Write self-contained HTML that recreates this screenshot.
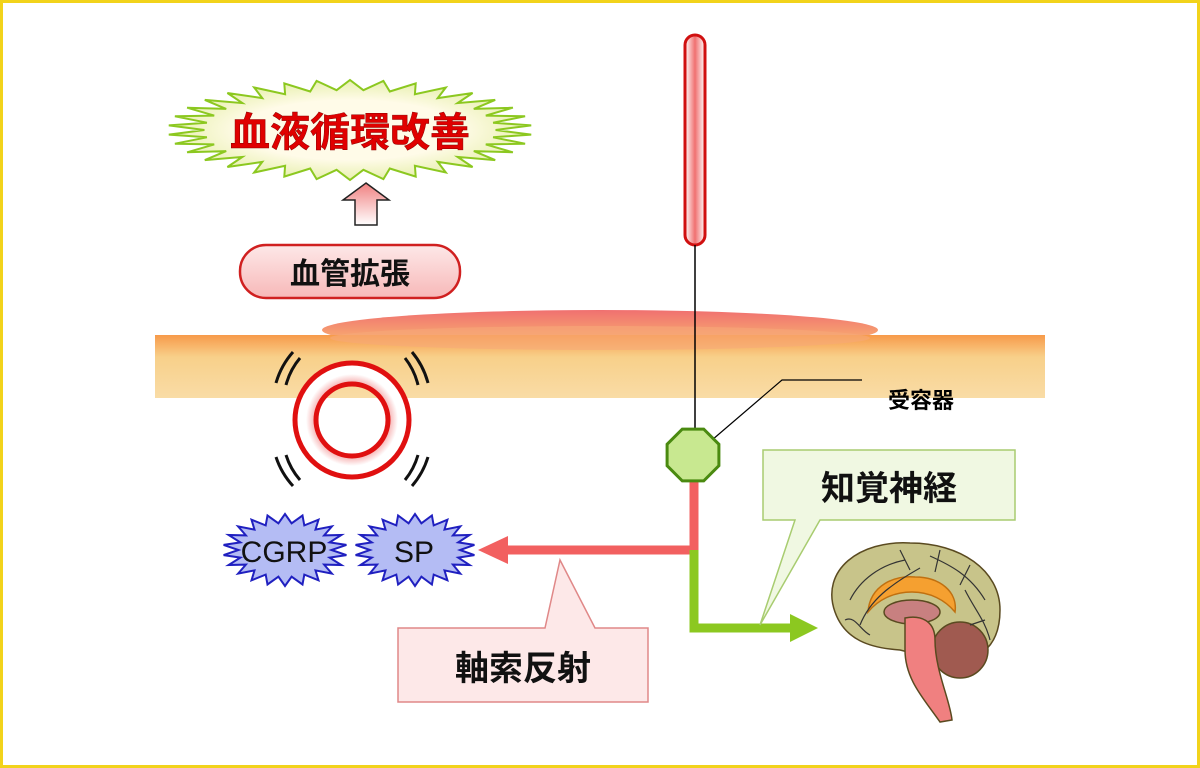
<!DOCTYPE html>
<html><head><meta charset="utf-8"><style>
html,body{margin:0;padding:0;background:#fff}
svg{display:block}
text{font-family:"Liberation Sans","Noto Sans CJK JP",sans-serif}
</style></head><body>
<svg id="s" width="1200" height="768" viewBox="0 0 1200 768" xmlns="http://www.w3.org/2000/svg">
<defs>
<linearGradient id="skin" x1="0" y1="0" x2="0" y2="1">
<stop offset="0" stop-color="#f79a4a"/><stop offset="0.35" stop-color="#f8d08a"/><stop offset="1" stop-color="#f9dca6"/></linearGradient>
<linearGradient id="bump" x1="0" y1="0" x2="0" y2="1">
<stop offset="0" stop-color="#f07070"/><stop offset="0.6" stop-color="#f6a070"/><stop offset="1" stop-color="#f8c890"/></linearGradient>
<linearGradient id="cap" x1="0" y1="0" x2="1" y2="0">
<stop offset="0" stop-color="#fff"/><stop offset="0.5" stop-color="#f07070"/><stop offset="1" stop-color="#fff"/></linearGradient>
<radialGradient id="burst" cx="0.5" cy="0.5" r="0.5">
<stop offset="0.6" stop-color="#fffbe8"/><stop offset="1" stop-color="#e8f0b0"/></radialGradient>
<linearGradient id="pill" x1="0" y1="0" x2="0" y2="1">
<stop offset="0" stop-color="#fde8e8"/><stop offset="1" stop-color="#f7b8b8"/></linearGradient>
<linearGradient id="arr" x1="0" y1="0" x2="0" y2="1">
<stop offset="0" stop-color="#f08080"/><stop offset="1" stop-color="#fff"/></linearGradient>
<radialGradient id="ring" cx="0.5" cy="0.5" r="0.5">
<stop offset="0.6" stop-color="#fff"/><stop offset="0.8" stop-color="#f6b0b0"/><stop offset="1" stop-color="#fff"/></radialGradient>
</defs>
<rect x="1.5" y="1.5" width="1197" height="765" fill="#fff" stroke="#f2d31b" stroke-width="3"/>
<!-- skin -->
<ellipse cx="600" cy="330" rx="278" ry="20" fill="url(#bump)"/>
<rect x="155" y="335" width="890" height="63" fill="url(#skin)"/>
<ellipse cx="600" cy="338" rx="270" ry="12" fill="#f6a878" opacity="0.6"/>
<!-- capsule -->
<rect x="685" y="35" width="20" height="210" rx="10" fill="url(#cap)" stroke="#d01010" stroke-width="3"/>
<line x1="695" y1="245" x2="695" y2="435" stroke="#000" stroke-width="1.5"/>
<!-- leader -->
<polyline points="712,440 782,380 862,380" fill="none" stroke="#000" stroke-width="1.2"/>
<text x="888" y="408" font-size="22" fill="#000" font-weight="bold">受容器</text>
<!-- red path -->
<polyline points="694,480 694,550 500,550" fill="none" stroke="#f26060" stroke-width="9"/>
<polygon points="478,550 508,536 508,564" fill="#f26060"/>
<!-- green path -->
<polyline points="694,550 694,628 795,628" fill="none" stroke="#8cc820" stroke-width="9"/>
<polygon points="818,628 790,614 790,642" fill="#8cc820"/>
<!-- octagon -->
<polygon id="oct" fill="#c8e890" stroke="#4a8a10" stroke-width="3"/>
<!-- callout 知覚神経 -->
<path d="M763,450 H1015 V520 H820 L760,625 L795,520 H763 Z" fill="#f0f8e2" stroke="#a8cc70" stroke-width="1.5"/>
<text x="889" y="500" font-size="34" font-weight="bold" text-anchor="middle" fill="#111">知覚神経</text>
<!-- brain -->
<g stroke="#5a4a20" stroke-width="1.5">
<path d="M835,612 C820,570 860,540 910,543 C960,543 1000,570 1000,610 C1000,650 975,665 940,660 L900,650 C870,648 845,640 835,612 Z" fill="#c8c48a"/>
<path d="M868,612 C870,585 895,575 915,577 C940,577 958,592 955,612 C945,600 930,592 912,592 C893,592 878,600 868,612 Z" fill="#f5a030" stroke="#c07010"/>
<ellipse cx="912" cy="612" rx="28" ry="12" fill="#c88080"/>
<circle cx="960" cy="650" r="28" fill="#a05a50"/>
<path d="M905,618 C920,615 935,620 935,640 C935,670 950,700 952,720 L940,722 C925,700 905,680 905,650 Z" fill="#f08080"/>
</g>
<g fill="none" stroke="#333" stroke-width="1.2">
<path d="M850,600 C860,580 880,565 905,560"/><path d="M860,625 C870,600 890,585 920,568"/>
<path d="M930,556 C950,565 970,575 985,600"/><path d="M965,590 C975,610 985,620 990,640"/>
<path d="M845,620 C855,615 860,630 870,635"/><path d="M900,550 L910,570 M940,550 L935,572 M970,565 L960,585 M985,620 L970,625"/>
</g>
<!-- callout 軸索反射 -->
<path d="M398,628 H545 L560,560 L595,628 H648 V702 H398 Z" fill="#fde8e8" stroke="#e08888" stroke-width="1.5"/>
<text x="523" y="680" font-size="34" font-weight="bold" text-anchor="middle" fill="#111">軸索反射</text>
<!-- vessel rings -->
<circle cx="352" cy="420" r="46" fill="none" stroke="url(#ring)" stroke-width="22"/>
<circle cx="352" cy="420" r="57" fill="none" stroke="#e01010" stroke-width="5"/>
<circle cx="352" cy="420" r="36" fill="none" stroke="#e01010" stroke-width="5"/>
<g fill="none" stroke="#111" stroke-width="3">
<path d="M286,385 A70,70 0 0 1 300,358"/><path d="M276,383 A80,80 0 0 1 293,352"/>
<path d="M405,358 A70,70 0 0 1 418,385"/><path d="M412,352 A80,80 0 0 1 428,383"/>
<path d="M286,455 A70,70 0 0 0 300,480"/><path d="M276,457 A80,80 0 0 0 293,486"/>
<path d="M405,480 A70,70 0 0 0 418,455"/><path d="M412,486 A80,80 0 0 0 428,457"/>
</g>
<!-- starbursts -->
<polygon id="b1" fill="#b4bcf4" stroke="#2020c0" stroke-width="2"/>
<polygon id="b2" fill="#b4bcf4" stroke="#2020c0" stroke-width="2"/>
<text x="284" y="562" font-size="30" text-anchor="middle" fill="#111">CGRP</text>
<text x="414" y="562" font-size="30" text-anchor="middle" fill="#111">SP</text>
<polygon id="b3" fill="url(#burst)" stroke="#8cc820" stroke-width="2"/>
<text x="350" y="146" font-size="40" font-weight="bold" text-anchor="middle" fill="#e00000" stroke="#8a0000" stroke-width="0.5">血液循環改善</text>
<!-- up arrow -->
<polygon points="366,183 389,200 377,200 377,225 355,225 355,200 343,200" fill="url(#arr)" stroke="#222" stroke-width="1.5"/>
<!-- pill -->
<rect x="240" y="245" width="220" height="53" rx="26" fill="url(#pill)" stroke="#d02020" stroke-width="2.5"/>
<text x="350" y="284" font-size="30" font-weight="bold" text-anchor="middle" fill="#111">血管拡張</text>
</svg>
<script>
function burst(id,cx,cy,rx,ry,n,d){var p=[];for(var i=0;i<2*n;i++){var a=Math.PI*i/n;var k=i%2?1:1-d;p.push((cx+rx*k*Math.cos(a)).toFixed(1)+','+(cy+ry*k*Math.sin(a)).toFixed(1));}document.getElementById(id).setAttribute('points',p.join(' '));}
burst('b1',285,550,62,36,22,0.25);
burst('b2',415,550,60,36,22,0.25);
burst('b3',350,130,182,50,34,0.2);
var p=[];for(var i=0;i<8;i++){var a=Math.PI/8+Math.PI*i/4;p.push((693+28*Math.cos(a)).toFixed(1)+','+(455+28*Math.sin(a)).toFixed(1));}
document.getElementById('oct').setAttribute('points',p.join(' '));
</script>
</body></html>
